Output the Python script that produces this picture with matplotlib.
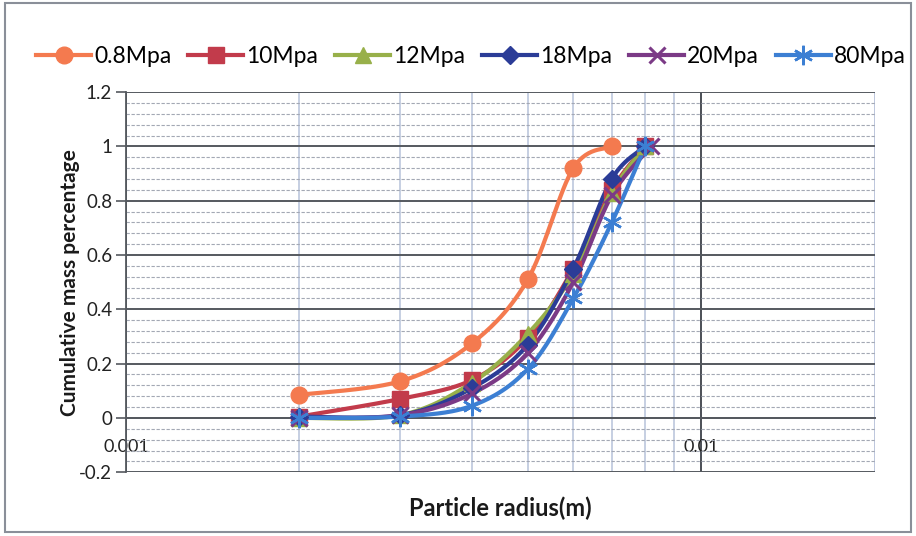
import numpy as np
import matplotlib
matplotlib.use("Agg")
import matplotlib.pyplot as plt
from matplotlib.patches import Rectangle
from matplotlib.ticker import FixedLocator, NullFormatter

plt.rcParams['font.family'] = ['Lato', 'DejaVu Sans']

# Particle radius (m) and cumulative mass fraction for each pressure
radius = [0.002, 0.003, 0.004, 0.005, 0.006, 0.007, 0.008]
radius_08 = [0.002, 0.003, 0.004, 0.005, 0.006, 0.007]
radius_20 = [0.002, 0.003, 0.004, 0.005, 0.006, 0.007, 0.0082]

mass_08 = [0.085, 0.135, 0.275, 0.51, 0.92, 1.0]
mass_10 = [0.005, 0.07, 0.14, 0.295, 0.55, 0.84, 1.0]
mass_12 = [0.0, 0.01, 0.13, 0.31, 0.53, 0.83, 1.0]
mass_18 = [0.005, 0.01, 0.11, 0.27, 0.55, 0.88, 1.0]
mass_20 = [0.0, 0.01, 0.09, 0.24, 0.50, 0.82, 1.0]
mass_80 = [0.0, 0.005, 0.045, 0.18, 0.44, 0.72, 1.0]

labels = ['0.8Mpa', '10Mpa', '12Mpa', '18Mpa', '20Mpa', '80Mpa']
colors = ['#F47A4F', '#C23B4B', '#98B04A', '#2B3C97', '#7B3A86', '#3C7FD3']

XMIN, XMAX = 0.001, 0.0201
YMIN, YMAX = -0.2, 1.2

fig = plt.figure(figsize=(9.16, 5.36), dpi=100)
ax = fig.add_axes([0.1376, 0.119, 0.8177, 0.709])
ax.set_xscale('log')
ax.set_xlim(XMIN, XMAX)
ax.set_ylim(YMIN, YMAX)

# outer chart frame
fig.patches.append(Rectangle((0.006, 0.008), 0.988, 0.986, transform=fig.transFigure,
                             fill=False, edgecolor='#8a8f99', linewidth=1.5))


def smooth_curve(xs, ys, steps=30):
    """Bezier smoothing of a polyline, computed in axes pixel space."""
    bb = ax.get_window_extent()
    lx0, lx1 = np.log10(XMIN), np.log10(XMAX)
    sx = bb.width / (lx1 - lx0)
    sy = bb.height / (YMAX - YMIN)
    px = (np.log10(xs) - lx0) * sx
    py = np.asarray(ys, dtype=float) * sy
    pts = np.column_stack([px, py])
    ext = np.vstack([pts[0], pts, pts[-1]])
    t = np.linspace(0, 1, steps)[:, None]
    parts = []
    for i in range(len(pts) - 1):
        p0, p1, p2, p3 = ext[i], ext[i + 1], ext[i + 2], ext[i + 3]
        c1 = p1 + (p2 - p0) / 6.0
        c2 = p2 - (p3 - p1) / 6.0
        b = (1 - t) ** 3 * p1 + 3 * (1 - t) ** 2 * t * c1 + 3 * (1 - t) * t ** 2 * c2 + t ** 3 * p2
        parts.append(b if i == 0 else b[1:])
    c = np.vstack(parts)
    return 10 ** (c[:, 0] / sx + lx0), c[:, 1] / sy


series = [
    (radius_08, mass_08, 'o', 12, 1.0),
    (radius, mass_10, 's', 11, 1.0),
    (radius, mass_12, '^', 12, 1.0),
    (radius, mass_18, 'D', 9.5, 1.0),
    (radius_20, mass_20, 'x', 12, 2.2),
    (radius, mass_80, (6, 2, 0), 14, 1.8),
]

handles = []
for (xs, ys, mk, ms, mew), lab, col in zip(series, labels, colors):
    cx, cy = smooth_curve(xs, ys)
    ax.plot(cx, cy, color=col, lw=3.0, solid_capstyle='round', zorder=3)
    ax.plot(xs, ys, linestyle='none', marker=mk, markersize=ms, color=col,
            markeredgecolor=col, markeredgewidth=mew, zorder=4)
    h, = ax.plot([], [], color=col, lw=3.0, marker=mk, markersize=ms,
                 markeredgecolor=col, markeredgewidth=mew, label=lab)
    handles.append(h)

# gridlines
ax.set_yticks(np.arange(-0.2, 1.21, 0.2))
ax.yaxis.set_minor_locator(FixedLocator(np.arange(-0.2, 1.2001, 0.04)))
ax.xaxis.set_major_locator(FixedLocator([0.001, 0.01]))
ax.xaxis.set_minor_locator(FixedLocator([k * 0.001 for k in range(2, 10)]))
ax.xaxis.set_minor_formatter(NullFormatter())
ax.set_yticklabels(['-0.2', '0', '0.2', '0.4', '0.6', '0.8', '1', '1.2'])
ax.set_xticklabels(['0.001', '0.01'])

ax.grid(which='minor', axis='y', color='#a3a8b4', lw=0.8, linestyle=(0, (3, 1.5)), zorder=0)
ax.grid(which='major', axis='y', color='#55595f', lw=1.4, zorder=1)
ax.grid(which='minor', axis='x', color='#b7c2da', lw=1.1, zorder=1)
ax.grid(which='major', axis='x', color='#4b4f56', lw=1.4, zorder=1)

for s in ['top', 'right']:
    ax.spines[s].set_visible(False)
ax.spines['left'].set_color('#55595f')
ax.spines['left'].set_linewidth(1.3)
ax.spines['bottom'].set_position(('data', 0))
ax.spines['bottom'].set_color('#55595f')
ax.spines['bottom'].set_linewidth(1.4)
ax.axvline(XMAX, color='#b7c2da', lw=1.3, zorder=1)

ax.tick_params(axis='y', which='major', length=7, width=1.2, color='#55595f',
               labelsize=13.5, pad=3, labelcolor='#222222')
ax.tick_params(axis='y', which='minor', length=0)
ax.tick_params(axis='x', which='both', length=0, labelsize=13, pad=15, labelcolor='#222222')

ax.set_xlabel('Particle radius(m)', fontsize=17, fontweight='bold', color='#1a1a1a')
ax.xaxis.set_label_coords(0.5, -0.065)
ax.set_ylabel('Cumulative mass percentage', fontsize=15, fontweight='bold', color='#1a1a1a')
ax.yaxis.set_label_coords(-0.062, 0.5)

fig.legend(handles=handles, loc='center', bbox_to_anchor=(0.514, 0.894), ncol=6,
           frameon=False, fontsize=16.5, handlelength=2.4, handletextpad=0.12,
           columnspacing=0.75)

fig.savefig('out.png', dpi=100, facecolor='white')
